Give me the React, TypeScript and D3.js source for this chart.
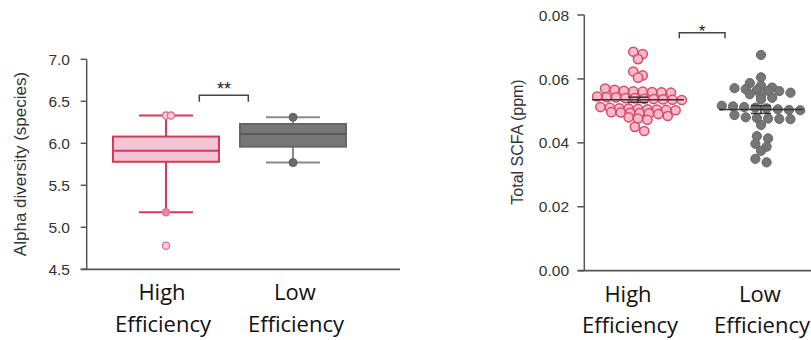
import React from "react";
import * as d3 from "d3";

// ---------- Left panel: alpha diversity box plot ----------
const groups = ["High", "Low"];
const groupLines = [
  ["High", "Efficiency"],
  ["Low", "Efficiency"],
];
const boxWhiskerLow = [5.18, 5.77];
const boxQ1 = [5.78, 5.96];
const boxMedian = [5.91, 6.11];
const boxQ3 = [6.08, 6.23];
const boxWhiskerHigh = [6.33, 6.31];
const highAlphaPoints = [6.33, 6.33, 5.18, 4.78];
const lowAlphaPoints = [6.31, 5.77];
const alphaTicks = [4.5, 5.0, 5.5, 6.0, 6.5, 7.0];

// ---------- Right panel: total SCFA scatter ----------
const highSCFA = [
  0.0685, 0.0678, 0.0662, 0.0623, 0.0611, 0.0604,
  0.057, 0.0566, 0.0563, 0.0561, 0.056, 0.0559, 0.0558, 0.0557,
  0.0545, 0.0543, 0.0542, 0.054, 0.054, 0.0538, 0.0537, 0.0536, 0.0535, 0.0534,
  0.0512, 0.051, 0.0508, 0.0507, 0.0506, 0.0505, 0.0504, 0.0503, 0.0502,
  0.0496, 0.0495, 0.0494, 0.0493, 0.0492, 0.049,
  0.0484, 0.048, 0.0476, 0.0472,
  0.045, 0.0437,
];
const lowSCFA = [
  0.0675, 0.0605, 0.0587, 0.0579,
  0.0573, 0.0571, 0.0568, 0.0565, 0.0563, 0.0562,
  0.0557, 0.0552, 0.0548, 0.0541, 0.0536,
  0.0516, 0.0514, 0.0512, 0.051, 0.0508, 0.0505, 0.0503, 0.0502,
  0.0487, 0.048, 0.0478, 0.0476, 0.0475, 0.0474, 0.0456,
  0.0421, 0.0414, 0.0397, 0.0388, 0.0375, 0.035, 0.0339,
];
const scfaTicks = [0, 0.02, 0.04, 0.06, 0.08];

const PINK_FILL = "#f6c4d4";
const RED = "#d23a58";
const GRAY_FILL = "#767676";
const GRAY_STROKE = "#666666";
const AXIS = "#555555";
const TEXT = "#333333";
const SANS = "'Liberation Sans', Arial, sans-serif";
const LABEL_FONT = "'Open Sans', 'Noto Sans', sans-serif";

// GraphPad-like row layout: values within a bin form a centred horizontal row
function rowLayout(values: number[], y: (v: number) => number, cx: number, bin: number, spacing: number) {
  const sorted = [...values].sort((a, b) => b - a);
  const rows: number[][] = [];
  let cur: number[] = [];
  let start = Infinity;
  for (const v of sorted) {
    if (cur.length && start - v < bin) {
      cur.push(v);
    } else {
      if (cur.length) rows.push(cur);
      cur = [v];
      start = v;
    }
  }
  if (cur.length) rows.push(cur);
  const pts: { x: number; y: number }[] = [];
  rows.forEach((row, ri) => {
    const n = row.length;
    const stagger = n > 1 && ri % 2 === 1 ? 1.5 : 0;
    // order so that values alternate around the centre
    row.forEach((v, j) => {
      const x = cx + (j - (n - 1) / 2) * spacing + (n === 1 ? 0 : stagger);
      pts.push({ x, y: y(v) });
    });
  });
  return pts;
}

export default function App() {
  // Left scales
  const yL = d3.scaleLinear().domain([4.5, 7.0]).range([269.3, 59.3]);
  const xL = d3.scalePoint<string>().domain(groups).range([166, 293]);
  const axisLx = 86.7;
  const boxW = 106;
  const capW = 54;

  // Right scales
  const yR = d3.scaleLinear().domain([0, 0.08]).range([270.7, 15]);
  const xR = d3.scalePoint<string>().domain(groups).range([638, 761]);
  const axisRx = 584.3;
  const dotR = 4.6;

  const highDots = rowLayout(highSCFA, yR, xR("High")!, 0.0015, 9.4);
  const lowDots = rowLayout(lowSCFA, yR, xR("Low")!, 0.0015, 11.2);

  const stats = [highSCFA, lowSCFA].map((arr) => {
    const m = d3.mean(arr)!;
    const sem = d3.deviation(arr)! / Math.sqrt(arr.length);
    return { m, sem };
  });

  const highPts = highAlphaPoints.map((v, i) => {
    const dupIdx = highAlphaPoints.slice(0, i).filter((w) => w === v).length;
    return { v, dx: dupIdx * 5 };
  });

  return (
    <div style={{ position: "absolute", left: 0, top: 0 }}>
      <svg width={811} height={340} style={{ display: "block", background: "#fff" }}>
        {/* ================= LEFT PANEL ================= */}
        <g>
          <line x1={axisLx} x2={axisLx} y1={yL(7.0)} y2={yL(4.5)} stroke={AXIS} strokeWidth={1.5} />
          <line x1={axisLx - 6} x2={400} y1={yL(4.5)} y2={yL(4.5)} stroke={AXIS} strokeWidth={1.8} />
          {alphaTicks.map((t) => (
            <g key={t}>
              <line x1={axisLx - 6} x2={axisLx} y1={yL(t)} y2={yL(t)} stroke={AXIS} strokeWidth={1.5} />
              <text x={70} y={yL(t)} dy="0.36em" textAnchor="end" fontFamily={SANS} fontSize={15.5} fill={TEXT}>
                {d3.format(".1f")(t)}
              </text>
            </g>
          ))}
          <text
            transform={`translate(20,${164}) rotate(-90)`}
            textAnchor="middle"
            dy="0.36em"
            fontFamily={SANS}
            fontSize={17}
            fill={TEXT}
          >
            Alpha diversity (species)
          </text>

          {groups.map((g, i) => {
            const cx = xL(g)!;
            const isHigh = i === 0;
            const stroke = isHigh ? RED : GRAY_STROKE;
            const wStroke = isHigh ? RED : "#8a8a8a";
            return (
              <g key={g}>
                <line x1={cx} x2={cx} y1={yL(boxWhiskerHigh[i])} y2={yL(boxQ3[i])} stroke={wStroke} strokeWidth={2} />
                <line x1={cx} x2={cx} y1={yL(boxQ1[i])} y2={yL(boxWhiskerLow[i])} stroke={wStroke} strokeWidth={2} />
                <line x1={cx - capW / 2} x2={cx + capW / 2} y1={yL(boxWhiskerHigh[i])} y2={yL(boxWhiskerHigh[i])} stroke={wStroke} strokeWidth={2} />
                <line x1={cx - capW / 2} x2={cx + capW / 2} y1={yL(boxWhiskerLow[i])} y2={yL(boxWhiskerLow[i])} stroke={wStroke} strokeWidth={2} />
                <rect
                  x={cx - boxW / 2}
                  y={yL(boxQ3[i])}
                  width={boxW}
                  height={yL(boxQ1[i]) - yL(boxQ3[i])}
                  fill={isHigh ? PINK_FILL : GRAY_FILL}
                  stroke={stroke}
                  strokeWidth={2}
                />
                <line
                  x1={cx - boxW / 2}
                  x2={cx + boxW / 2}
                  y1={yL(boxMedian[i])}
                  y2={yL(boxMedian[i])}
                  stroke={isHigh ? RED : "#5a5a5a"}
                  strokeWidth={2}
                />
              </g>
            );
          })}
          {highPts.map((p, i) => (
            <circle
              key={"hp" + i}
              cx={xL("High")! + p.dx}
              cy={yL(p.v)}
              r={3.6}
              fill={p.v === boxWhiskerLow[0] ? "#e88aa5" : "#f7cddb"}
              stroke="#df6f8e"
              strokeWidth={1.3}
            />
          ))}
          {lowAlphaPoints.map((v, i) => (
            <circle key={"lp" + i} cx={xL("Low")!} cy={yL(v)} r={4} fill="#6a6a6a" stroke="#5e5e5e" strokeWidth={1} />
          ))}

          <path d="M199.3,101.7 V95.3 H248.3 V101.7" fill="none" stroke="#444" strokeWidth={1.5} />
          <text x={224} y={95} textAnchor="middle" fontFamily={SANS} fontSize={18} fill="#222">
            **
          </text>

          {groups.map((g, i) => (
            <text key={g} textAnchor="middle" fontFamily={LABEL_FONT} fontSize={22} fill="#111">
              <tspan x={i === 0 ? 162 : 295} y={300}>
                {groupLines[i][0]}
              </tspan>
              <tspan x={i === 0 ? 163 : 296} y={332}>
                {groupLines[i][1]}
              </tspan>
            </text>
          ))}
        </g>

        {/* ================= RIGHT PANEL ================= */}
        <g>
          <line x1={axisRx} x2={axisRx} y1={yR(0.08)} y2={yR(0)} stroke={AXIS} strokeWidth={1.5} />
          <line x1={axisRx - 6} x2={811} y1={yR(0)} y2={yR(0)} stroke={AXIS} strokeWidth={1.8} />
          {scfaTicks.map((t) => (
            <g key={t}>
              <line x1={axisRx - 7} x2={axisRx} y1={yR(t)} y2={yR(t)} stroke={AXIS} strokeWidth={1.5} />
              <text x={569} y={yR(t)} dy="0.36em" textAnchor="end" fontFamily={SANS} fontSize={15.5} fill={TEXT}>
                {d3.format(".2f")(t)}
              </text>
            </g>
          ))}
          <text
            transform={`translate(517,${142}) rotate(-90)`}
            textAnchor="middle"
            dy="0.36em"
            fontFamily={SANS}
            fontSize={16}
            fill={TEXT}
          >
            Total SCFA (ppm)
          </text>

          {highDots.map((p, i) => (
            <circle key={"h" + i} cx={p.x} cy={p.y} r={dotR} fill="#f4bccb" stroke="#da4a6a" strokeWidth={1.5} />
          ))}
          {lowDots.map((p, i) => (
            <circle key={"l" + i} cx={p.x} cy={p.y} r={dotR} fill={GRAY_FILL} stroke={GRAY_STROKE} strokeWidth={1} />
          ))}

          {groups.map((g, i) => {
            const cx = xR(g)!;
            const { m, sem } = stats[i];
            const half = i === 0 ? 46 : 42;
            return (
              <g key={g} stroke="#333" strokeWidth={1.5}>
                <line x1={cx - half} x2={cx + half} y1={yR(m)} y2={yR(m)} />
                <line x1={cx} x2={cx} y1={yR(m + sem)} y2={yR(m - sem)} />
                <line x1={cx - 10} x2={cx + 10} y1={yR(m + sem)} y2={yR(m + sem)} />
                <line x1={cx - 10} x2={cx + 10} y1={yR(m - sem)} y2={yR(m - sem)} />
              </g>
            );
          })}

          <path d="M679.3,38.3 V32.7 H725 V38.3" fill="none" stroke="#444" strokeWidth={1.5} />
          <text x={702} y={37} textAnchor="middle" fontFamily={SANS} fontSize={17} fill="#222">
            *
          </text>

          {groups.map((g, i) => (
            <text key={g} textAnchor="middle" fontFamily={LABEL_FONT} fontSize={22} fill="#111">
              <tspan x={i === 0 ? 628 : 760} y={302}>
                {groupLines[i][0]}
              </tspan>
              <tspan x={i === 0 ? 630 : 762} y={333}>
                {groupLines[i][1]}
              </tspan>
            </text>
          ))}
        </g>
      </svg>
    </div>
  );
}
